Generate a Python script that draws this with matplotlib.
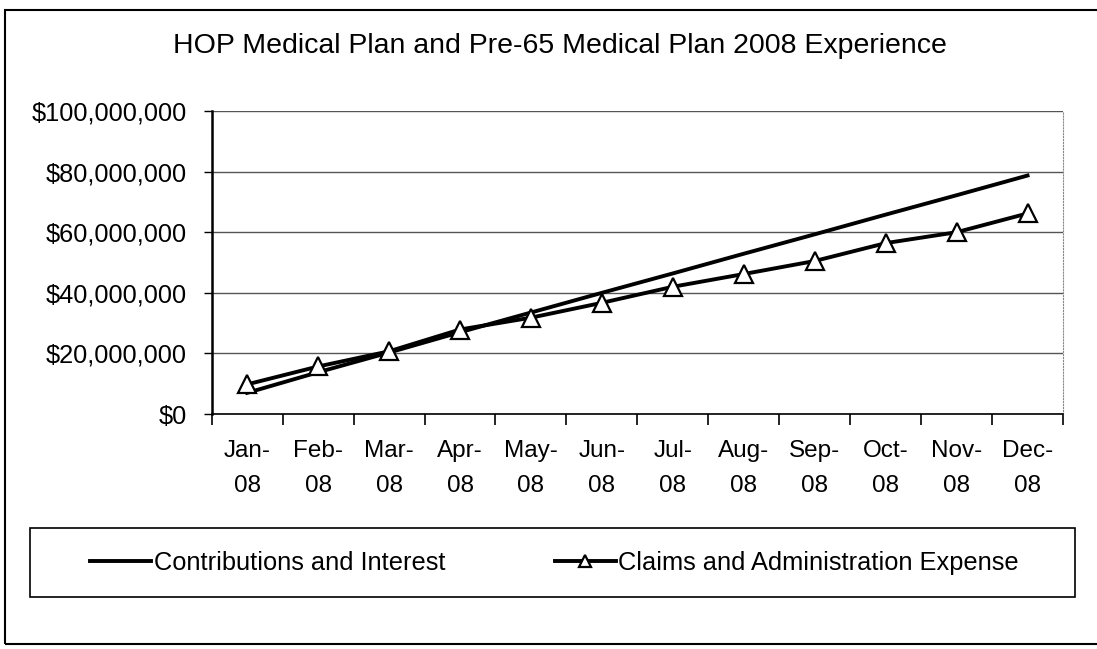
import numpy as np
import matplotlib.pyplot as plt
from matplotlib.patches import Rectangle
from matplotlib.ticker import FuncFormatter

months = ["Jan-\n08", "Feb-\n08", "Mar-\n08", "Apr-\n08", "May-\n08", "Jun-\n08",
          "Jul-\n08", "Aug-\n08", "Sep-\n08", "Oct-\n08", "Nov-\n08", "Dec-\n08"]
contributions = [7.0e6, 13.8e6, 20.3e6, 27.0e6, 33.5e6, 40.0e6,
                 46.4e6, 52.9e6, 59.3e6, 65.8e6, 72.2e6, 78.7e6]
claims = [9.8e6, 15.7e6, 20.7e6, 27.9e6, 31.8e6, 36.7e6,
          42.0e6, 46.2e6, 50.5e6, 56.4e6, 60.0e6, 66.2e6]


def main() -> None:
	plt.rcParams['font.family'] = ['Liberation Sans', 'DejaVu Sans']

	fig = plt.figure(figsize=(10.97, 6.49), dpi=100)
	ax = fig.add_axes([0.193, 0.362, 0.776, 0.467])

	x = np.arange(len(months))
	ax.plot(x, contributions, color='black', lw=2.8, label="Contributions and Interest", zorder=3)
	ax.plot(x, claims, color='black', lw=2.8, marker='^', markersize=13,
	        markerfacecolor='white', markeredgecolor='black', markeredgewidth=1.6,
	        label="Claims and Administration Expense", zorder=4)

	ax.set_xlim(-0.5, len(months) - 0.5)
	ax.set_ylim(0, 100e6)
	ax.set_yticks(np.arange(0, 100e6 + 1, 20e6))
	ax.yaxis.set_major_formatter(FuncFormatter(lambda v, p: f"${v:,.0f}"))
	ax.grid(axis='y', color='#555555', lw=1.0)
	ax.set_axisbelow(True)

	ax.set_xticks(x)
	ax.set_xticklabels(months, fontsize=17.5, linespacing=1.72)
	ax.set_xticks(np.arange(-0.5, len(months)), minor=True)
	ax.tick_params(axis='x', which='major', length=0, pad=19)
	ax.tick_params(axis='x', which='minor', length=8, width=1.2, direction='out')
	ax.tick_params(axis='y', labelsize=18.3, length=6, width=1.0, pad=12)

	ax.spines['left'].set_linewidth(1.8)
	ax.spines['bottom'].set_linewidth(1.2)
	ax.spines['top'].set_visible(False)
	ax.spines['right'].set_color('#888888')
	ax.spines['right'].set_linestyle(':')

	fig.text(0.51, 0.929, "HOP Medical Plan and Pre-65 Medical Plan 2008 Experience",
	         ha='center', va='center', fontsize=20.5)

	# legend box
	fig.patches.append(Rectangle((0.027, 0.080), 0.953, 0.106, transform=fig.transFigure,
	                             fill=False, edgecolor='black', lw=1.2))
	fig.legend(loc='center', bbox_to_anchor=(0.5055, 0.133), ncol=2, frameon=False,
	           fontsize=18.3, handlelength=2.4, columnspacing=4.3, handletextpad=0.1,
	           markerscale=0.65)

	# outer border (right edge cut off in the scan)
	fig.patches.append(Rectangle((0.005, 0.008), 1.1, 0.977, transform=fig.transFigure,
	                             fill=False, edgecolor='black', lw=1.5))

	fig.savefig("out.png", dpi=100)


if __name__ == "__main__":
	main()
